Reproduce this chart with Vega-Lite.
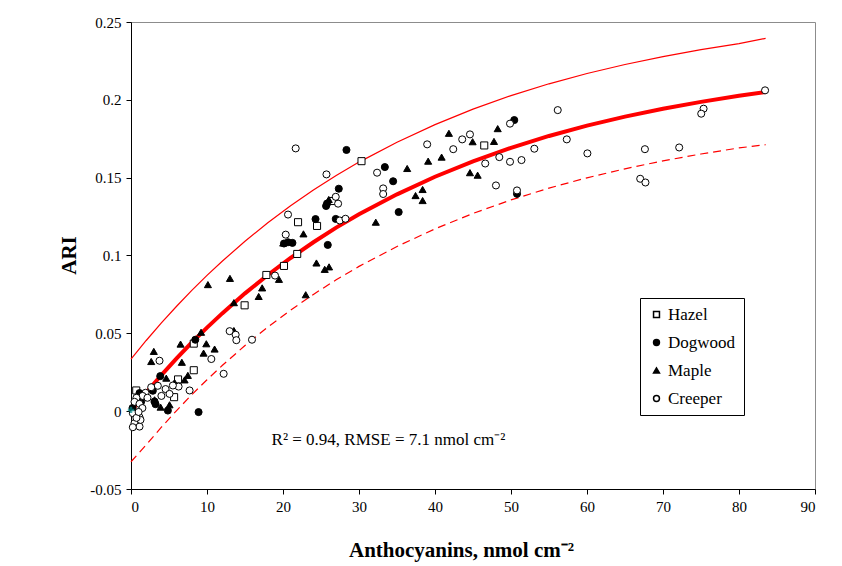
{
  "$schema": "https://vega.github.io/schema/vega-lite/v6.json",
  "width": 684,
  "height": 467,
  "autosize": {"type": "none"},
  "padding": {"left": 131, "top": 22, "right": 27, "bottom": 77},
  "background": "white",
  "config": {
    "font": "Liberation Serif",
    "view": {"stroke": "#8c8c8c", "strokeWidth": 1},
    "text": {"font": "Liberation Serif"},
    "axis": {
      "grid": false,
      "domainColor": "black",
      "tickColor": "black",
      "tickSize": 5,
      "labelFont": "Liberation Serif",
      "labelFontSize": 15,
      "labelColor": "black",
      "labelPadding": 5,
      "titleFont": "Liberation Serif",
      "titleFontSize": 20,
      "titleFontWeight": "bold",
      "titleColor": "black"
    }
  },
  "datasets": {
    "central": [
      {"a": 0, "ari": 0}, {"a": 2, "ari": 0.0119}, {"a": 4, "ari": 0.0232}, {"a": 6, "ari": 0.0339},
      {"a": 8, "ari": 0.0441}, {"a": 10, "ari": 0.0537}, {"a": 12, "ari": 0.0628}, {"a": 15, "ari": 0.0757},
      {"a": 18, "ari": 0.0875}, {"a": 21, "ari": 0.0984}, {"a": 24, "ari": 0.1085}, {"a": 27, "ari": 0.1179},
      {"a": 30, "ari": 0.1265}, {"a": 35, "ari": 0.1393}, {"a": 40, "ari": 0.1506}, {"a": 45, "ari": 0.1605},
      {"a": 50, "ari": 0.1692}, {"a": 55, "ari": 0.1768}, {"a": 60, "ari": 0.1834}, {"a": 65, "ari": 0.1892},
      {"a": 70, "ari": 0.1943}, {"a": 75, "ari": 0.1987}, {"a": 80, "ari": 0.2026}, {"a": 83.5, "ari": 0.205}
    ],
    "upper": [
      {"a": 0, "ari": 0.0335}, {"a": 2, "ari": 0.0454}, {"a": 4, "ari": 0.0567}, {"a": 6, "ari": 0.0674},
      {"a": 8, "ari": 0.0776}, {"a": 10, "ari": 0.0872}, {"a": 12, "ari": 0.0963}, {"a": 15, "ari": 0.1092},
      {"a": 18, "ari": 0.121}, {"a": 21, "ari": 0.1319}, {"a": 24, "ari": 0.142}, {"a": 27, "ari": 0.1514},
      {"a": 30, "ari": 0.16}, {"a": 35, "ari": 0.1728}, {"a": 40, "ari": 0.1841}, {"a": 45, "ari": 0.194},
      {"a": 50, "ari": 0.2027}, {"a": 55, "ari": 0.2103}, {"a": 60, "ari": 0.2169}, {"a": 65, "ari": 0.2227},
      {"a": 70, "ari": 0.2278}, {"a": 75, "ari": 0.2322}, {"a": 80, "ari": 0.2361}, {"a": 83.5, "ari": 0.2395}
    ],
    "lower": [
      {"a": 0, "ari": -0.0325}, {"a": 2, "ari": -0.0216}, {"a": 4, "ari": -0.0103}, {"a": 6, "ari": 0.0004},
      {"a": 8, "ari": 0.0106}, {"a": 10, "ari": 0.0202}, {"a": 12, "ari": 0.0293}, {"a": 15, "ari": 0.0422},
      {"a": 18, "ari": 0.054}, {"a": 21, "ari": 0.0649}, {"a": 24, "ari": 0.075}, {"a": 27, "ari": 0.0844},
      {"a": 30, "ari": 0.093}, {"a": 35, "ari": 0.1058}, {"a": 40, "ari": 0.1171}, {"a": 45, "ari": 0.127},
      {"a": 50, "ari": 0.1357}, {"a": 55, "ari": 0.1433}, {"a": 60, "ari": 0.1499}, {"a": 65, "ari": 0.1557},
      {"a": 70, "ari": 0.1608}, {"a": 75, "ari": 0.1652}, {"a": 80, "ari": 0.1691}, {"a": 83.5, "ari": 0.1712}
    ],
    "points": [
      {"sp": "Hazel", "a": 30.33, "ari": 0.1606}, {"sp": "Hazel", "a": 46.48, "ari": 0.1707},
      {"sp": "Hazel", "a": 21.98, "ari": 0.1214}, {"sp": "Hazel", "a": 24.48, "ari": 0.119},
      {"sp": "Hazel", "a": 21.87, "ari": 0.101}, {"sp": "Hazel", "a": 20.13, "ari": 0.0933},
      {"sp": "Hazel", "a": 17.81, "ari": 0.0875}, {"sp": "Hazel", "a": 14.95, "ari": 0.068},
      {"sp": "Hazel", "a": 8.26, "ari": 0.0434}, {"sp": "Hazel", "a": 8.26, "ari": 0.0263},
      {"sp": "Hazel", "a": 6.19, "ari": 0.0204}, {"sp": "Hazel", "a": 5.67, "ari": 0.009},
      {"sp": "Hazel", "a": 0.69, "ari": 0.0133}, {"sp": "Hazel", "a": 26.5, "ari": 0.135},

      {"sp": "Dogwood", "a": 28.35, "ari": 0.1678}, {"sp": "Dogwood", "a": 33.4, "ari": 0.1568},
      {"sp": "Dogwood", "a": 34.49, "ari": 0.1477}, {"sp": "Dogwood", "a": 35.22, "ari": 0.1279},
      {"sp": "Dogwood", "a": 50.43, "ari": 0.187}, {"sp": "Dogwood", "a": 50.79, "ari": 0.1396},
      {"sp": "Dogwood", "a": 27.34, "ari": 0.1429}, {"sp": "Dogwood", "a": 25.67, "ari": 0.1318},
      {"sp": "Dogwood", "a": 25.8, "ari": 0.1334}, {"sp": "Dogwood", "a": 24.28, "ari": 0.1234},
      {"sp": "Dogwood", "a": 26.94, "ari": 0.1235}, {"sp": "Dogwood", "a": 25.89, "ari": 0.1068},
      {"sp": "Dogwood", "a": 20.13, "ari": 0.1077}, {"sp": "Dogwood", "a": 20.66, "ari": 0.1085},
      {"sp": "Dogwood", "a": 21.24, "ari": 0.1081}, {"sp": "Dogwood", "a": 8.46, "ari": 0.0459},
      {"sp": "Dogwood", "a": 3.85, "ari": 0.0225}, {"sp": "Dogwood", "a": 2.87, "ari": 0.0131},
      {"sp": "Dogwood", "a": 3.23, "ari": 0.0045}, {"sp": "Dogwood", "a": 4.85, "ari": 0.0004},
      {"sp": "Dogwood", "a": 8.89, "ari": -0.0006}, {"sp": "Dogwood", "a": 1.12, "ari": 0.0116},
      {"sp": "Dogwood", "a": 1.34, "ari": 0.0062}, {"sp": "Dogwood", "a": 0.2, "ari": 0.002},
      {"sp": "Dogwood", "a": 3.1, "ari": 0.0062},

      {"sp": "Maple", "a": 41.83, "ari": 0.1785}, {"sp": "Maple", "a": 48.25, "ari": 0.1815},
      {"sp": "Maple", "a": 47.76, "ari": 0.1733}, {"sp": "Maple", "a": 44.95, "ari": 0.1731},
      {"sp": "Maple", "a": 40.87, "ari": 0.1632}, {"sp": "Maple", "a": 39.1, "ari": 0.1606},
      {"sp": "Maple", "a": 36.34, "ari": 0.1559}, {"sp": "Maple", "a": 44.6, "ari": 0.1532},
      {"sp": "Maple", "a": 45.61, "ari": 0.1516}, {"sp": "Maple", "a": 37.44, "ari": 0.1385},
      {"sp": "Maple", "a": 38.37, "ari": 0.1424}, {"sp": "Maple", "a": 38.37, "ari": 0.1353},
      {"sp": "Maple", "a": 32.21, "ari": 0.1214}, {"sp": "Maple", "a": 26.02, "ari": 0.136},
      {"sp": "Maple", "a": 22.69, "ari": 0.1139}, {"sp": "Maple", "a": 20.03, "ari": 0.108},
      {"sp": "Maple", "a": 24.4, "ari": 0.0952}, {"sp": "Maple", "a": 25.49, "ari": 0.0911},
      {"sp": "Maple", "a": 26.06, "ari": 0.0927}, {"sp": "Maple", "a": 19.47, "ari": 0.0847},
      {"sp": "Maple", "a": 17.26, "ari": 0.0792}, {"sp": "Maple", "a": 16.8, "ari": 0.0737},
      {"sp": "Maple", "a": 22.99, "ari": 0.0748}, {"sp": "Maple", "a": 13.02, "ari": 0.0853},
      {"sp": "Maple", "a": 10.12, "ari": 0.0813}, {"sp": "Maple", "a": 13.54, "ari": 0.0697},
      {"sp": "Maple", "a": 9.22, "ari": 0.0507}, {"sp": "Maple", "a": 9.91, "ari": 0.0433},
      {"sp": "Maple", "a": 9.55, "ari": 0.0373}, {"sp": "Maple", "a": 11.0, "ari": 0.0399},
      {"sp": "Maple", "a": 6.52, "ari": 0.0431}, {"sp": "Maple", "a": 13.54, "ari": 0.0518},
      {"sp": "Maple", "a": 3.0, "ari": 0.0384}, {"sp": "Maple", "a": 2.66, "ari": 0.0319},
      {"sp": "Maple", "a": 6.69, "ari": 0.0314}, {"sp": "Maple", "a": 4.64, "ari": 0.0212},
      {"sp": "Maple", "a": 7.05, "ari": 0.0201}, {"sp": "Maple", "a": 7.48, "ari": 0.023},
      {"sp": "Maple", "a": 5.73, "ari": 0.0184}, {"sp": "Maple", "a": 3.1, "ari": 0.0073},
      {"sp": "Maple", "a": 3.89, "ari": 0.0026}, {"sp": "Maple", "a": 5.07, "ari": 0.0041},

      {"sp": "Creeper", "a": 83.43, "ari": 0.2061}, {"sp": "Creeper", "a": 75.34, "ari": 0.1943},
      {"sp": "Creeper", "a": 75.03, "ari": 0.1911}, {"sp": "Creeper", "a": 72.13, "ari": 0.1694},
      {"sp": "Creeper", "a": 67.62, "ari": 0.1683}, {"sp": "Creeper", "a": 67.0, "ari": 0.1493},
      {"sp": "Creeper", "a": 67.69, "ari": 0.1469}, {"sp": "Creeper", "a": 60.05, "ari": 0.1656},
      {"sp": "Creeper", "a": 57.34, "ari": 0.1746}, {"sp": "Creeper", "a": 56.15, "ari": 0.1934},
      {"sp": "Creeper", "a": 53.07, "ari": 0.1686}, {"sp": "Creeper", "a": 51.38, "ari": 0.1613},
      {"sp": "Creeper", "a": 49.87, "ari": 0.1602}, {"sp": "Creeper", "a": 48.46, "ari": 0.1632},
      {"sp": "Creeper", "a": 49.87, "ari": 0.1847}, {"sp": "Creeper", "a": 50.79, "ari": 0.1418},
      {"sp": "Creeper", "a": 48.02, "ari": 0.145}, {"sp": "Creeper", "a": 46.61, "ari": 0.1591},
      {"sp": "Creeper", "a": 44.6, "ari": 0.1778}, {"sp": "Creeper", "a": 43.58, "ari": 0.1746},
      {"sp": "Creeper", "a": 42.4, "ari": 0.1683}, {"sp": "Creeper", "a": 38.97, "ari": 0.1714},
      {"sp": "Creeper", "a": 33.18, "ari": 0.1431}, {"sp": "Creeper", "a": 33.18, "ari": 0.1395},
      {"sp": "Creeper", "a": 32.38, "ari": 0.1532}, {"sp": "Creeper", "a": 25.72, "ari": 0.1521},
      {"sp": "Creeper", "a": 21.67, "ari": 0.1688}, {"sp": "Creeper", "a": 26.94, "ari": 0.1377},
      {"sp": "Creeper", "a": 27.25, "ari": 0.1333}, {"sp": "Creeper", "a": 27.47, "ari": 0.1225},
      {"sp": "Creeper", "a": 28.22, "ari": 0.1236}, {"sp": "Creeper", "a": 20.66, "ari": 0.1263},
      {"sp": "Creeper", "a": 20.36, "ari": 0.1134}, {"sp": "Creeper", "a": 18.95, "ari": 0.0871},
      {"sp": "Creeper", "a": 12.98, "ari": 0.0514}, {"sp": "Creeper", "a": 13.77, "ari": 0.0491},
      {"sp": "Creeper", "a": 13.86, "ari": 0.0456}, {"sp": "Creeper", "a": 15.92, "ari": 0.0459},
      {"sp": "Creeper", "a": 10.57, "ari": 0.0335}, {"sp": "Creeper", "a": 12.19, "ari": 0.024},
      {"sp": "Creeper", "a": 3.75, "ari": 0.0324}, {"sp": "Creeper", "a": 7.71, "ari": 0.0133},
      {"sp": "Creeper", "a": 6.26, "ari": 0.0158}, {"sp": "Creeper", "a": 5.51, "ari": 0.0165},
      {"sp": "Creeper", "a": 4.55, "ari": 0.0142}, {"sp": "Creeper", "a": 3.53, "ari": 0.0163},
      {"sp": "Creeper", "a": 2.66, "ari": 0.0154}, {"sp": "Creeper", "a": 1.91, "ari": 0.0118},
      {"sp": "Creeper", "a": 1.52, "ari": 0.0098}, {"sp": "Creeper", "a": 2.17, "ari": 0.0086},
      {"sp": "Creeper", "a": 0.72, "ari": 0.0086}, {"sp": "Creeper", "a": 0.46, "ari": 0.006},
      {"sp": "Creeper", "a": 1.12, "ari": 0.0047}, {"sp": "Creeper", "a": 0.24, "ari": -0.0013},
      {"sp": "Creeper", "a": 1.12, "ari": -0.0039}, {"sp": "Creeper", "a": 0.46, "ari": -0.0077},
      {"sp": "Creeper", "a": 1.12, "ari": -0.0099}, {"sp": "Creeper", "a": 0.24, "ari": -0.0103},
      {"sp": "Creeper", "a": 1.25, "ari": -0.0056}, {"sp": "Creeper", "a": 0.72, "ari": -0.0043},
      {"sp": "Creeper", "a": 4.0, "ari": 0.0098}, {"sp": "Creeper", "a": 5.07, "ari": 0.0111},
      {"sp": "Creeper", "a": 1.5, "ari": 0.002}, {"sp": "Creeper", "a": 1.0, "ari": -0.0005}
    ],
    "origin": [{"a": 0, "ari": 0.0008}],
    "note": [{"a": 18.5, "ari": -0.0185, "label": "R² = 0.94, RMSE = 7.1 nmol cm⁻²"}]
  },
  "encoding": {
    "x": {
      "field": "a",
      "type": "quantitative",
      "scale": {"domain": [0, 90], "nice": false, "zero": false},
      "axis": {
        "values": [0, 10, 20, 30, 40, 50, 60, 70, 80, 90],
        "labelFont": "Liberation Serif",
        "labelFontSize": 15,
        "title": "Anthocyanins, nmol cm⁻²",
        "titleFont": "Liberation Serif",
        "titleFontSize": 21,
        "titleX": 330,
        "titleY": 67,
        "titleAnchor": "middle",
        "titleAlign": "center",
        "titleBaseline": "alphabetic"
      }
    },
    "y": {
      "field": "ari",
      "type": "quantitative",
      "scale": {"domain": [-0.05, 0.25], "nice": false, "zero": false},
      "axis": {
        "values": [-0.05, 0, 0.05, 0.1, 0.15, 0.2, 0.25],
        "labelExpr": "replace(format(datum.value, '~g'), '\u2212', '-')",
        "labelFont": "Liberation Serif",
        "labelFontSize": 15,
        "title": "ARI",
        "titleFont": "Liberation Serif",
        "titleFontSize": 21,
        "titleX": -62,
        "titleY": 233,
        "titleAngle": -90,
        "titleAlign": "center",
        "titleBaseline": "middle"
      }
    }
  },
  "layer": [
    {
      "data": {"name": "upper"},
      "mark": {"type": "line", "color": "#ff0000", "strokeWidth": 1.2}
    },
    {
      "data": {"name": "lower"},
      "mark": {"type": "line", "color": "#ff0000", "strokeWidth": 1.2, "strokeDash": [8, 5]}
    },
    {
      "data": {"name": "central"},
      "mark": {"type": "line", "color": "#ff0000", "strokeWidth": 4}
    },
    {
      "data": {"name": "points"},
      "mark": {"type": "point", "filled": true, "stroke": "black", "strokeWidth": 1, "size": 50, "opacity": 1},
      "encoding": {
        "shape": {
          "field": "sp",
          "type": "nominal",
          "scale": {"domain": ["Hazel", "Dogwood", "Maple", "Creeper"], "range": ["square", "circle", "triangle-up", "circle"]},
          "legend": {
            "title": null,
            "orient": "none",
            "direction": "vertical",
            "legendX": 509,
            "legendY": 276,
            "padding": 8,
            "strokeColor": "black",
            "fillColor": "white",
            "labelFont": "Liberation Serif",
            "labelFontSize": 17,
            "labelColor": "black",
            "labelOffset": 3,
            "rowPadding": 10,
            "symbolSize": 35,
            "encode": {
              "symbols": {"stroke": {"value": "black"}, "strokeWidth": {"value": 1}}
            }
          }
        },
        "fill": {
          "field": "sp",
          "type": "nominal",
          "scale": {"domain": ["Hazel", "Dogwood", "Maple", "Creeper"], "range": ["white", "black", "black", "white"]},
          "legend": {
            "title": null,
            "orient": "none",
            "direction": "vertical",
            "legendX": 509,
            "legendY": 276,
            "padding": 8,
            "strokeColor": "black",
            "fillColor": "white",
            "labelFont": "Liberation Serif",
            "labelFontSize": 17,
            "labelColor": "black",
            "labelOffset": 3,
            "rowPadding": 10,
            "symbolSize": 35,
            "encode": {
              "symbols": {"stroke": {"value": "black"}, "strokeWidth": {"value": 1}}
            }
          }
        }
      }
    },
    {
      "data": {"name": "origin"},
      "mark": {"type": "point", "shape": "cross", "filled": true, "color": "#008b8b", "size": 40}
    },
    {
      "data": {"name": "note"},
      "mark": {"type": "text", "align": "left", "baseline": "middle", "font": "Liberation Serif", "fontSize": 17, "color": "black"},
      "encoding": {"text": {"field": "label", "type": "nominal"}}
    }
  ]
}
